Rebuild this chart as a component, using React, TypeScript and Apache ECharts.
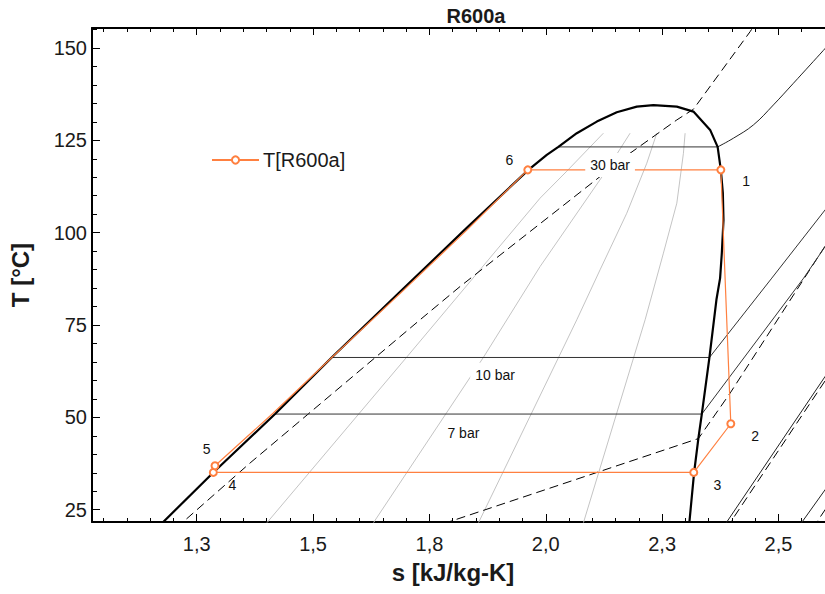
import React, { useEffect, useRef } from 'react';
import * as echarts from 'echarts';

const FONT = '"Liberation Sans", Arial, Helvetica, sans-serif';
const ORANGE = '#ff8040';
const TEXT = '#1a1a1a';

// axis ranges
const X_MIN = 1.025;
const X_MAX = 2.6;
const Y_MIN = 21.67;
const Y_MAX = 155.4;

// ticks
const xMajorTicks = [1.25, 1.5, 1.75, 2.0, 2.25, 2.5];
const xTickLabels = ['1,3', '1,5', '1,8', '2,0', '2,3', '2,5'];
const xMinorTicks = [
  1.05, 1.1, 1.15, 1.2, 1.25, 1.3, 1.35, 1.4, 1.45, 1.5, 1.55, 1.6, 1.65, 1.7, 1.75, 1.8,
  1.85, 1.9, 1.95, 2.0, 2.05, 2.1, 2.15, 2.2, 2.25, 2.3, 2.35, 2.4, 2.45, 2.5, 2.55, 2.6,
];
const yMajorTicks = [25, 50, 75, 100, 125, 150];
const yMinorTicks = [
  25, 30, 35, 40, 45, 50, 55, 60, 65, 70, 75, 80, 85, 90, 95, 100, 105, 110, 115, 120, 125,
  130, 135, 140, 145, 150, 155,
];

// saturation dome [s, T] (liquid side -> critical point -> vapour side)
const saturationDome = [
  [1.1647, 20.0], [1.2857, 35.09], [1.4183, 50.89], [1.5401, 66.21], [1.6869, 83.98],
  [1.8303, 101.3], [1.9627, 116.99], [2.0022, 121.05], [2.0271, 123.21], [2.0667, 126.92],
  [2.1097, 130.06], [2.1526, 132.6], [2.1956, 134.12], [2.2313, 134.5], [2.2816, 134.12],
  [2.3173, 132.77], [2.3532, 127.81], [2.3693, 123.21], [2.3762, 116.99], [2.3805, 110.69],
  [2.3819, 103.46], [2.3783, 94.45], [2.3746, 87.69], [2.3667, 81.82], [2.3517, 66.21],
  [2.3353, 50.89], [2.328, 44.4], [2.3188, 35.09], [2.3074, 20.0],
];

// isobars (solid)
const isobar30Wet = [[2.0271, 123.21], [2.3693, 123.21]];
const isobar30Superheated = [
  [2.3693, 123.21], [2.4032, 125.57], [2.4462, 129.17], [2.4892, 134.58],
  [2.5322, 140.45], [2.5681, 145.4], [2.611, 151.35],
];
const isobar10 = [[1.5401, 66.21], [2.3517, 66.21], [2.4857, 87.69], [2.6003, 106.17], [2.62, 109.35]];
const isobar7 = [[1.4183, 50.89], [2.3353, 50.89], [2.5541, 87.69], [2.6003, 96.24], [2.62, 99.9]];
const isobarLowA = [[2.38, 20.0], [2.6003, 61.07], [2.62, 64.7]];
const isobarLowB = [[2.5412, 20.0], [2.6003, 30.41], [2.62, 33.9]];

// dashed lines
const dashedA = [
  [1.2055, 20.0], [1.3646, 37.64], [1.7299, 76.41], [1.8159, 85.42], [2.1167, 115.18],
  [2.1812, 121.51], [2.2816, 130.52], [2.3173, 133.41], [2.4391, 154.41], [2.4553, 157.58],
];
const dashedB = [[1.7514, 20.0], [2.328, 44.26], [2.3962, 56.57], [2.5395, 84.52], [2.6003, 96.38], [2.62, 100.2]];
const dashedC = [[2.3884, 20.0], [2.6003, 59.9], [2.62, 63.6]];
const dashedD = [[2.5735, 20.0], [2.6003, 25.0], [2.62, 28.7]];

// constant-quality lines (grey)
const quality1 = [[1.391, 20.0], [1.7013, 66.31], [1.9878, 109.34], [2.0437, 116.45], [2.1238, 126.92]];
const quality2 = [[1.622, 20.0], [1.8664, 66.31], [1.9878, 90.83], [2.1312, 116.99], [2.1812, 126.92]];
const quality3 = [[1.8498, 20.0], [2.0667, 76.41], [2.1167, 89.94], [2.1741, 105.27], [2.2171, 118.8], [2.2386, 126.92]];
const quality4 = [[2.0774, 20.0], [2.2135, 76.41], [2.2528, 94.45], [2.2816, 107.98], [2.2958, 121.51], [2.2994, 126.92]];

// cycle T[R600a]
const cycleS = [2.3762, 2.3976, 2.318, 1.2857, 1.2893, 1.414, 1.5408, 1.6891, 1.832, 1.9614, 2.3762];
const cycleT = [117.0, 48.27, 35.1, 35.1, 36.9, 51.11, 66.26, 83.77, 100.89, 117.0, 117.0];
const cycleMarker = [true, true, true, true, true, false, false, false, false, true, false];

// state number labels
const stateLabelText = ['1', '2', '3', '4', '5', '6'];
const stateLabelS = [2.4305, 2.4499, 2.3689, 1.3265, 1.2715, 1.9218];
const stateLabelT = [114.01, 44.83, 31.76, 31.76, 41.42, 119.61];

// pressure labels
const pressureLabelText = ['30 bar', '10 bar', '7 bar'];
const pressureLabelS = [2.1382, 1.8911, 1.823];
const pressureLabelT = [118.34, 61.53, 45.75];

function lineSeries(data: number[][], color: string, width: number, type: any, z: number, smooth: any = false) {
  return {
    type: 'line',
    data,
    symbol: 'none',
    showSymbol: false,
    silent: true,
    clip: true,
    smooth,
    z,
    lineStyle: { color, width, type },
    emphasis: { disabled: true },
    legendHoverLink: false,
  };
}

export default function App() {
  const ref = useRef<HTMLDivElement>(null);

  useEffect(() => {
    if (!ref.current) return;
    const chart = echarts.init(ref.current, null, { renderer: 'svg' });

    const xBase = { type: 'value', min: X_MIN, max: X_MAX, splitLine: { show: false } };
    const yBase = { type: 'value', min: Y_MIN, max: Y_MAX, splitLine: { show: false } };
    const axisLine = { show: true, onZero: false, lineStyle: { color: '#000', width: 2 } };
    const tickStyle = { color: '#000', width: 1 };

    const cycleData = cycleS.map((s, i) => ({
      value: [s, cycleT[i]],
      symbol: cycleMarker[i] ? 'emptyCircle' : 'none',
    }));

    const labelBase = {
      show: true,
      position: 'inside',
      formatter: '{b}',
      fontSize: 14,
      color: '#111',
      fontFamily: FONT,
      textBorderWidth: 0,
      textBorderColor: 'transparent',
      textShadowBlur: 0,
      opacity: 1,
    };

    const option: any = {
      animation: false,
      backgroundColor: '#fff',
      title: {
        text: 'R600a',
        left: 476,
        top: 6,
        padding: 0,
        textAlign: 'center',
        textStyle: { fontSize: 20, fontWeight: 'bold', color: TEXT, fontFamily: FONT },
      },
      legend: {
        data: ['T[R600a]'],
        left: 211,
        top: 150,
        padding: 0,
        itemWidth: 47,
        itemHeight: 9,
        selectedMode: false,
        textStyle: { fontSize: 20, color: TEXT, fontFamily: FONT, padding: [0, 0, 0, -1] },
      },
      grid: { left: 92, top: 28, right: 0, bottom: 72, containLabel: false },
      xAxis: [
        {
          ...xBase,
          position: 'bottom',
          axisLine,
          axisTick: { show: true, inside: true, length: 8, customValues: xMajorTicks, lineStyle: tickStyle },
          axisLabel: {
            show: true,
            customValues: xMajorTicks,
            formatter: (v: number) => {
              const i = xMajorTicks.findIndex((t) => Math.abs(t - v) < 1e-6);
              return i >= 0 ? xTickLabels[i] : '';
            },
            fontSize: 20,
            color: TEXT,
            fontFamily: FONT,
            margin: 12,
          },
          name: 's [kJ/kg-K]',
          nameLocation: 'middle',
          nameGap: 38,
          nameTextStyle: { fontSize: 24, fontWeight: 'bold', color: TEXT, fontFamily: FONT, padding: [0, 11, 0, 0] },
        },
        {
          ...xBase,
          position: 'bottom',
          axisLine: { show: false },
          axisTick: { show: true, inside: true, length: 4, customValues: xMinorTicks, lineStyle: tickStyle },
          axisLabel: { show: false },
        },
        {
          ...xBase,
          position: 'top',
          axisLine,
          axisTick: { show: true, inside: true, length: 7, customValues: xMajorTicks, lineStyle: tickStyle },
          axisLabel: { show: false },
        },
        {
          ...xBase,
          position: 'top',
          axisLine: { show: false },
          axisTick: { show: true, inside: true, length: 4, customValues: xMinorTicks, lineStyle: tickStyle },
          axisLabel: { show: false },
        },
      ],
      yAxis: [
        {
          ...yBase,
          position: 'left',
          axisLine,
          axisTick: { show: true, inside: true, length: 8, customValues: yMajorTicks, lineStyle: tickStyle },
          axisLabel: {
            show: true,
            customValues: yMajorTicks,
            fontSize: 20,
            color: TEXT,
            fontFamily: FONT,
            margin: 5,
          },
          name: 'T [°C]',
          nameLocation: 'middle',
          nameGap: 60,
          nameTextStyle: { fontSize: 24, fontWeight: 'bold', color: TEXT, fontFamily: FONT },
        },
        {
          ...yBase,
          position: 'left',
          axisLine: { show: false },
          axisTick: { show: true, inside: true, length: 5, customValues: yMinorTicks, lineStyle: tickStyle },
          axisLabel: { show: false },
        },
      ],
      series: [
        lineSeries(quality1, '#c4c4c4', 1, 'solid', 1),
        lineSeries(quality2, '#c4c4c4', 1, 'solid', 1),
        lineSeries(quality3, '#c4c4c4', 1, 'solid', 1),
        lineSeries(quality4, '#c4c4c4', 1, 'solid', 1),
        lineSeries(dashedA, '#000', 1, [9, 5], 2),
        lineSeries(dashedB, '#000', 1, [9, 5], 2),
        lineSeries(dashedC, '#000', 1, [9, 5], 2),
        lineSeries(dashedD, '#000', 1, [9, 5], 2),
        lineSeries(isobar30Wet, '#333', 1, 'solid', 2),
        lineSeries(isobar30Superheated, '#222', 1, 'solid', 2, 0.4),
        lineSeries(isobar10, '#333', 1, 'solid', 2),
        lineSeries(isobar7, '#333', 1, 'solid', 2),
        lineSeries(isobarLowA, '#222', 1, 'solid', 2),
        lineSeries(isobarLowB, '#222', 1, 'solid', 2),
        lineSeries(saturationDome, '#000', 2.2, 'solid', 3),
        {
          type: 'line',
          name: 'T[R600a]',
          data: cycleData,
          symbol: 'emptyCircle',
          symbolSize: 7,
          showAllSymbol: true,
          silent: true,
          clip: true,
          z: 4,
          lineStyle: { color: ORANGE, width: 1.2 },
          itemStyle: { color: ORANGE, borderWidth: 1.2 },
          emphasis: { disabled: true },
        },
        {
          type: 'scatter',
          data: stateLabelText.map((t, i) => ({ value: [stateLabelS[i], stateLabelT[i]], name: t })),
          symbol: 'circle',
          symbolSize: 1,
          itemStyle: { color: 'rgba(255,255,255,0)' },
          silent: true,
          z: 6,
          emphasis: { disabled: true },
          label: { ...labelBase },
        },
        {
          type: 'scatter',
          data: pressureLabelText.map((t, i) => ({ value: [pressureLabelS[i], pressureLabelT[i]], name: t })),
          symbol: 'circle',
          symbolSize: 1,
          itemStyle: { color: 'rgba(255,255,255,0)' },
          silent: true,
          z: 6,
          emphasis: { disabled: true },
          label: { ...labelBase, backgroundColor: '#fff', padding: [5, 5] },
        },
      ],
    };

    chart.setOption(option);
    return () => chart.dispose();
  }, []);

  return (
    <div
      ref={ref}
      style={{ position: 'absolute', left: 0, top: 0, width: 825, height: 594, background: '#fff' }}
    />
  );
}
